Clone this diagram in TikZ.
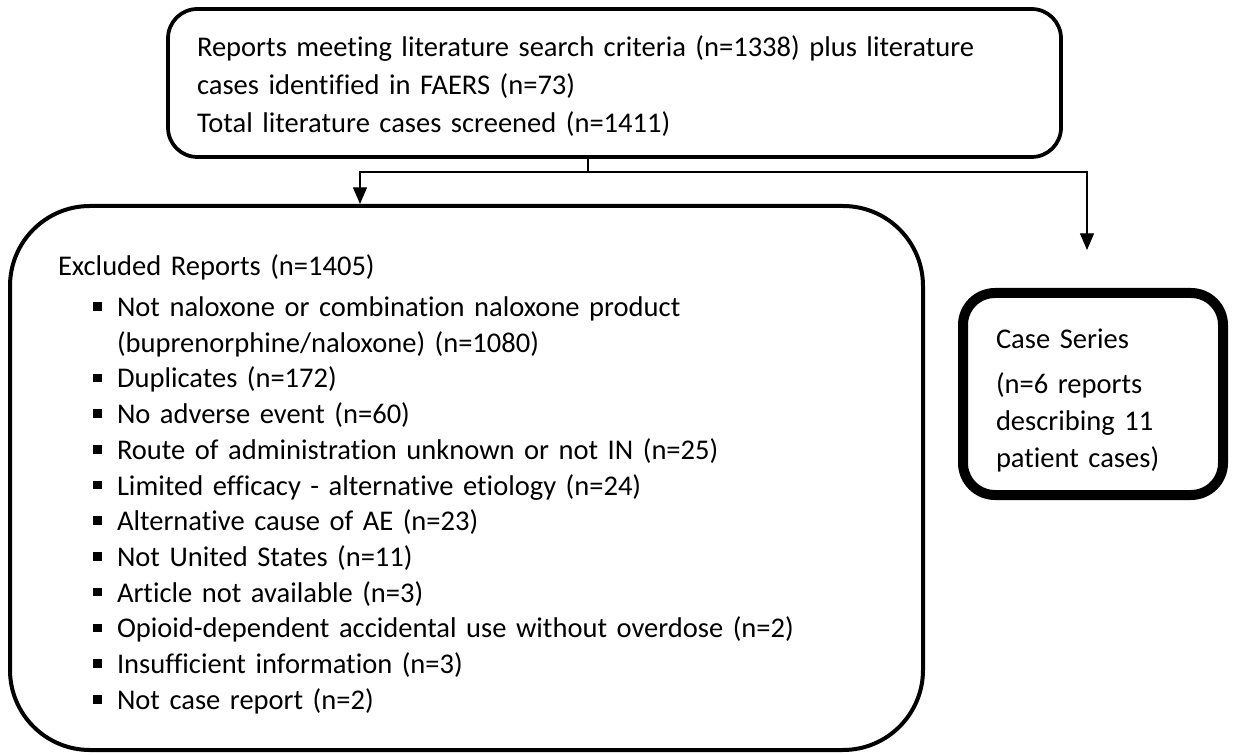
\documentclass[tikz,border=0pt]{standalone}
\usepackage{fontspec}
\setmainfont{Carlito}[Ligatures=NoCommon]
\usetikzlibrary{arrows.meta,positioning,calc}
\newcommand\sqbullet{\raisebox{4.3pt}{\rule{6.4pt}{6.4pt}}}
\newcommand\tallstrut[1]{\rule{0pt}{#1}}
\newenvironment{exclist}{%
    \begin{list}{\sqbullet}{%
        \setlength\leftmargin{44.25pt}%
        \setlength\labelwidth{6.4pt}%
        \setlength\labelsep{11.5pt}%
        \setlength\itemsep{0pt}%
        \setlength\parsep{0pt}%
        \setlength\topsep{4pt}%
        \setlength\partopsep{0pt}}}
    {\end{list}}
\tikzset{
    flowbox/.style={draw=black,align=left,inner ysep=0pt},
    flowline/.style={draw=black,line width=0.9pt},
    flowarrow/.style={flowline,-{Triangle[width=10.5pt,length=12.5pt]}}
}

\begin{document}
\begin{tikzpicture}[x=0.75pt,y=-0.75pt,font=\fontsize{21.4}{26.8}\selectfont]
            \useasboundingbox (0,0) rectangle (1239,755);
            \node[flowbox,line width=2.8pt,rounded corners=22pt,minimum width=669.75pt,minimum height=111pt,
                text width=626.25pt,inner xsep=21.75pt] (search) at (614.5,83)
                {\tallstrut{20pt}Reports meeting literature search criteria (n=1338) plus literature\\[1.8pt]
                cases identified in FAERS (n=73)\\[1.8pt]
                Total literature cases screened (n=1411)};
            \node[flowbox,line width=3pt,rounded corners=60pt,minimum width=684.75pt,minimum height=408pt,
                text width=612.75pt,inner xsep=36pt] (excluded) at (466.5,478)
                {\tallstrut{25pt}Excluded Reports (n=1405)
                \begin{exclist}
                    \item Not naloxone or combination naloxone product\\(buprenorphine/naloxone) (n=1080)
                    \item Duplicates (n=172)
                    \item No adverse event (n=60)
                    \item Route of administration unknown or not IN (n=25)
                    \item Limited efficacy - alternative etiology (n=24)
                    \item Alternative cause of AE (n=23)
                    \item Not United States (n=11)
                    \item Article not available (n=3)
                    \item Opioid-dependent accidental use without overdose (n=2)
                    \item Insufficient information (n=3)
                    \item Not case report (n=2)
                \end{exclist}};
            \node[flowbox,line width=7.5pt,rounded corners=24pt,minimum width=195pt,minimum height=151.5pt,
                text width=145.5pt,inner xsep=24.75pt] (series) at (1093,394)
                {\tallstrut{25pt}Case Series\\[7pt]
                (n=6 reports\\[1pt]
                describing 11\\[1pt]
                patient cases)};
            \coordinate (split) at (588,172);
            \coordinate (leftturn) at (360,172);
            \coordinate (seriesend) at (1087,250);
            \draw[flowline] (search.south -| split) -- (split);
            \draw[flowarrow] (split) -- (leftturn) -- (leftturn |- excluded.north);
            \draw[flowarrow] (split) -| (seriesend);
        \end{tikzpicture}
\end{document}
